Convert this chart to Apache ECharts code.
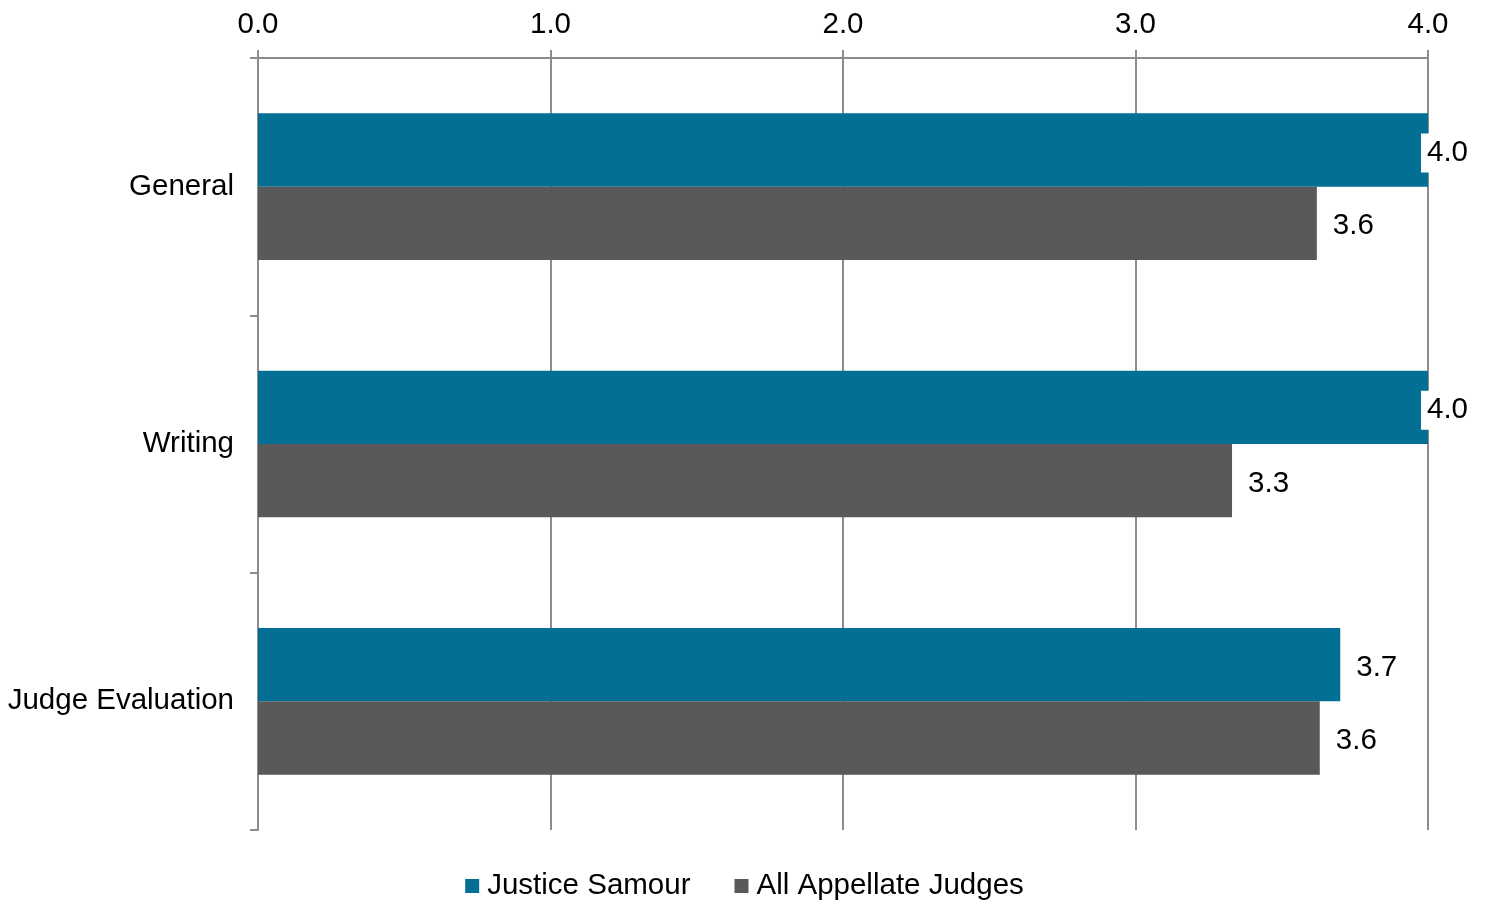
<!DOCTYPE html>
<html>
<head>
<meta charset="utf-8">
<script src="https://cdn.jsdelivr.net/npm/echarts@6/dist/echarts.min.js"></script>
<style>
  html, body { margin: 0; padding: 0; background: #fff; }
  #chart { width: 1489px; height: 903px; }
</style>
</head>
<body>
<div id="chart"></div>
<script>
var categories = ['General', 'Writing', 'Judge Evaluation'];
var samour = [4.0, 4.0, 3.70];
var allJudges = [3.62, 3.33, 3.63];
var xTicks = ['0.0', '1.0', '2.0', '3.0', '4.0'];

var font = 'Liberation Sans, Arial, sans-serif';

// labels sitting at the max get pulled back over the bar end
function withLabels(vals){
    var out = [];
    for (var i = 0; i < vals.length; i++) {
        out.push({
            value: vals[i],
            label: { distance: vals[i] >= 4 ? -7 : 10 }
        });
    }
    return out;
}

var labelStyle = {
    show: true,
    position: 'right',
    offset: [0, 3],
    color: '#000',
    fontFamily: font,
    fontSize: 29.5,
    backgroundColor: '#fff',
    padding: [5, 6, 4, 6],
    formatter: function(p){ return p.value.toFixed(1); }
};

var myChart = echarts.init(document.getElementById('chart'));
var option = {
    animation: false,
    grid: { left: 258, right: 61, top: 58, bottom: 73 },
    legend: {
        bottom: -3,
        left: 'center',
        itemWidth: 14,
        itemHeight: 14,
        itemGap: 44,
        icon: 'rect',
        textStyle: { fontFamily: font, fontSize: 29.5, color: '#000', padding: [4, 0, 0, 3] },
        data: ['Justice Samour', 'All Appellate Judges']
    },
    xAxis: {
        type: 'value',
        position: 'top',
        min: 0,
        max: 4,
        interval: 1,
        axisLine: { show: true, lineStyle: { color: '#8c8c8c', width: 2 } },
        axisTick: { show: true, length: 8, lineStyle: { color: '#8c8c8c', width: 2 } },
        splitLine: { show: true, lineStyle: { color: '#8c8c8c', width: 2 } },
        axisLabel: {
            margin: 18,
            fontFamily: font,
            fontSize: 29.5,
            color: '#000',
            formatter: function(v){ return xTicks[Math.round(v)]; }
        }
    },
    yAxis: {
        type: 'category',
        inverse: true,
        data: categories,
        axisLine: { show: true, lineStyle: { color: '#8c8c8c', width: 2 } },
        axisTick: { show: true, length: 8, alignWithLabel: false, lineStyle: { color: '#8c8c8c', width: 2 } },
        axisLabel: { margin: 24, fontFamily: font, fontSize: 29.5, color: '#000', padding: [10, 0, 0, 0] }
    },
    series: [
        {
            name: 'Justice Samour',
            type: 'bar',
            data: withLabels(samour),
            barGap: '0%',
            barCategoryGap: '43%',
            itemStyle: { color: '#036F94' },
            label: labelStyle,
            z: 3
        },
        {
            name: 'All Appellate Judges',
            type: 'bar',
            data: withLabels(allJudges),
            barGap: '0%',
            barCategoryGap: '43%',
            itemStyle: { color: '#595959' },
            label: labelStyle,
            z: 3
        }
    ]
};
myChart.setOption(option);
</script>
</body>
</html>
